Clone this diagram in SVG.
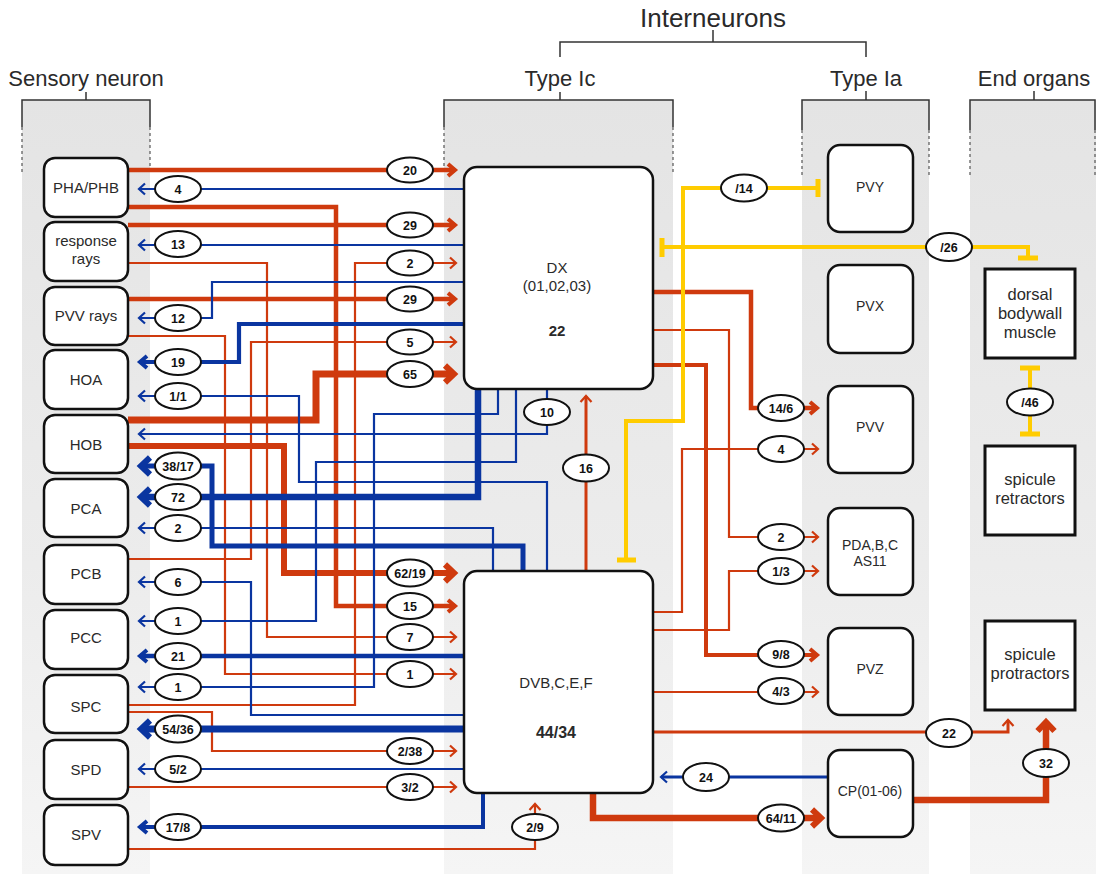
<svg xmlns="http://www.w3.org/2000/svg" width="1096" height="874" viewBox="0 0 1096 874">
<style>
text{font-family:"Liberation Sans",Arial,sans-serif;fill:#2a2a2a;text-anchor:middle}
.hd{font-size:22px}
.hd2{font-size:26px}
.nl{font-size:15px}
.nb{font-size:15px;font-weight:bold}
.eo{font-size:16.5px}
.node{fill:#fff;stroke:#111;stroke-width:2.5}
.box{fill:#fff;stroke:#111;stroke-width:3}
.col{fill:url(#gray)}
.br{fill:none;stroke:#333;stroke-width:1.5}
.dash{fill:none;stroke:#555;stroke-width:1.2;stroke-dasharray:3 3}
.r{fill:none;stroke:#cf3a0e;stroke-linejoin:miter}
.b{fill:none;stroke:#0a35a0;stroke-linejoin:miter}
.y{fill:none;stroke:#ffcc00;stroke-width:4}
.yt{fill:none;stroke:#ffcc00;stroke-width:5}
.rt{stroke-width:2.2;marker-end:url(#mRt)}
.rm{stroke-width:4.5;marker-end:url(#mRm)}
.rk{stroke-width:6.5;marker-end:url(#mRk)}
.bt{stroke-width:2.2;marker-end:url(#mBt)}
.bm{stroke-width:4.2;marker-end:url(#mBm)}
.bk{stroke-width:6.5;marker-end:url(#mBk)}
.lab ellipse{fill:#fff;stroke:#111;stroke-width:2}
.lab text{font-size:12.5px;font-weight:bold;fill:#111}
</style>
<defs>
<linearGradient id="gray" x1="0" y1="0" x2="0" y2="1">
<stop offset="0" stop-color="#e4e4e4"/>
<stop offset="0.6" stop-color="#ececec"/>
<stop offset="1" stop-color="#f5f5f5"/>
</linearGradient>
<marker id="mRt" markerUnits="userSpaceOnUse" viewBox="-12 -12 24 24" markerWidth="24" markerHeight="24" refX="0" refY="0" orient="auto" overflow="visible"><path d="M-6,-5.5 L0,0 L-6,5.5" fill="none" stroke="#cf3a0e" stroke-width="2.2"/></marker>
<marker id="mRm" markerUnits="userSpaceOnUse" viewBox="-12 -12 24 24" markerWidth="24" markerHeight="24" refX="0" refY="0" orient="auto" overflow="visible"><path d="M-7,-6 L0,0 L-7,6" fill="none" stroke="#cf3a0e" stroke-width="4"/></marker>
<marker id="mRk" markerUnits="userSpaceOnUse" viewBox="-14 -14 28 28" markerWidth="28" markerHeight="28" refX="0" refY="0" orient="auto" overflow="visible"><path d="M-9,-8.5 L0,0 L-9,8.5" fill="none" stroke="#cf3a0e" stroke-width="6"/></marker>
<marker id="mBt" markerUnits="userSpaceOnUse" viewBox="-12 -12 24 24" markerWidth="24" markerHeight="24" refX="0" refY="0" orient="auto" overflow="visible"><path d="M-6,-5.5 L0,0 L-6,5.5" fill="none" stroke="#0a35a0" stroke-width="2.2"/></marker>
<marker id="mBm" markerUnits="userSpaceOnUse" viewBox="-12 -12 24 24" markerWidth="24" markerHeight="24" refX="0" refY="0" orient="auto" overflow="visible"><path d="M-7,-6 L0,0 L-7,6" fill="none" stroke="#0a35a0" stroke-width="4"/></marker>
<marker id="mBk" markerUnits="userSpaceOnUse" viewBox="-14 -14 28 28" markerWidth="28" markerHeight="28" refX="0" refY="0" orient="auto" overflow="visible"><path d="M-9,-8.5 L0,0 L-9,8.5" fill="none" stroke="#0a35a0" stroke-width="6"/></marker>
</defs>
<rect width="1096" height="874" fill="#fff"/>
<g id="columns">
<rect class="col" x="22" y="100" width="128" height="774"/>
<rect class="col" x="444" y="100" width="229" height="774"/>
<rect class="col" x="802" y="100" width="127" height="774"/>
<rect class="col" x="970" y="100" width="126" height="774"/>
</g>
<g id="headers">
<text class="hd2" x="713" y="27">Interneurons</text>
<path class="br" d="M560,57 V42 H866 V57 M713,42 V30"/>
<text class="hd" x="86" y="86">Sensory neuron</text>
<path class="br" d="M22,127 V100 H150 V127 M86,100 V92"/>
<path class="dash" d="M22,127 V172 M150,127 V172"/>
<text class="hd" x="560" y="86">Type Ic</text>
<path class="br" d="M444,127 V100 H673 V127 M560,100 V92"/>
<path class="dash" d="M444,127 V172 M673,127 V172"/>
<text class="hd" x="866" y="86">Type Ia</text>
<path class="br" d="M802,130 V100 H929 V130 M866,100 V91"/>
<path class="dash" d="M802,130 V175 M929,130 V175"/>
<text class="hd" x="1034" y="86">End organs</text>
<path class="br" d="M970,130 V100 H1095 V130 M1034,100 V91"/>
<path class="dash" d="M970,130 V175 M1095,130 V175"/>
</g>
<g id="connectors">
<!-- red -->
<path class="r rm" d="M128,170 H455"/>
<path class="r rm" d="M128,207 H336 V606 H455"/>
<path class="r rm" d="M128,225 H455"/>
<path class="r rt" d="M128,263 H267 V637 H456"/>
<path class="r rm" d="M128,299 H455"/>
<path class="r rt" d="M128,336 H225 V674 H456"/>
<path class="r rk" d="M128,420 H316 V374 H454" style="stroke-width:7"/>
<path class="r rk" d="M128,446 H284 V573 H454" style="stroke-width:6"/>
<path class="r rt" d="M128,559 H251 V342 H456"/>
<path class="r rt" d="M128,705 H355 V263 H456"/>
<path class="r rt" d="M128,712 H212 V751 H456"/>
<path class="r rt" d="M128,787 H456"/>
<path class="r rt" d="M128,849 H535 V804"/>
<path class="r rt" d="M586,571 V396" style="stroke-width:3"/>
<path class="r rm" d="M653,292 H751 V408 H817"/>
<path class="r rt" d="M653,330 H729 V537 H818"/>
<path class="r rm" d="M653,365 H706 V655 H817" style="stroke-width:4"/>
<path class="r rt" d="M653,612 H682 V449 H818"/>
<path class="r rt" d="M653,630 H729 V571 H818"/>
<path class="r rt" d="M653,692 H818"/>
<path class="r rt" d="M653,732 H1008 V720" style="stroke-width:3"/>
<path class="r rk" d="M593,793 V818 H821"/>
<path class="r rk" d="M913,800 H1046 V722"/>
<!-- blue -->
<path class="b bt" d="M464,189 H139"/>
<path class="b bt" d="M464,245 H139"/>
<path class="b bt" d="M464,282 H212 V318 H139"/>
<path class="b bm" d="M464,324 H239 V362 H140"/>
<path class="b bt" d="M547,571 V482 H299 V396 H139"/>
<path class="b bt" d="M547,389 V434 H139"/>
<path class="b bk" d="M523,571 V546 H212 V466 H141" style="stroke-width:5"/>
<path class="b bk" d="M478,389 V497 H141"/>
<path class="b bt" d="M493,571 V528 H139"/>
<path class="b bt" d="M464,715 H251 V582 H139"/>
<path class="b bt" d="M516,389 V462 H316 V621 H139"/>
<path class="b bm" d="M464,656 H140" style="stroke-width:4.5"/>
<path class="b bt" d="M498,389 V414 H374 V687 H139"/>
<path class="b bk" d="M464,729 H141" style="stroke-width:7"/>
<path class="b bt" d="M464,769 H139"/>
<path class="b bm" d="M483,793 V827 H140" style="stroke-width:4"/>
<path class="b bt" d="M828,777 H661" style="stroke-width:3"/>
<!-- yellow -->
<path class="y" d="M626,560 V421 H683 V188 H818"/>
<path class="yt" d="M818,179 V197 M617,560 H636"/>
<path class="y" d="M662,247 H1028 V258"/>
<path class="yt" d="M662,238 V257 M1018,258 H1038"/>
<path class="y" d="M1030,368 V434"/>
<path class="yt" d="M1020,368 H1040 M1020,434 H1040"/>
<!-- labels -->
<g class="lab">
<ellipse cx="178" cy="189" rx="23" ry="13"/><text x="178" y="193.5">4</text>
<ellipse cx="178" cy="244" rx="23" ry="13"/><text x="178" y="248.5">13</text>
<ellipse cx="178" cy="318" rx="23" ry="13"/><text x="178" y="322.5">12</text>
<ellipse cx="178" cy="362" rx="23" ry="13"/><text x="178" y="366.5">19</text>
<ellipse cx="178" cy="396" rx="23" ry="13"/><text x="178" y="400.5">1/1</text>
<ellipse cx="178" cy="466" rx="23" ry="13.5"/><text x="178" y="470.5">38/17</text>
<ellipse cx="178" cy="497" rx="23" ry="13"/><text x="178" y="501.5">72</text>
<ellipse cx="178" cy="528" rx="23" ry="13"/><text x="178" y="532.5">2</text>
<ellipse cx="178" cy="582" rx="23" ry="13"/><text x="178" y="586.5">6</text>
<ellipse cx="178" cy="621" rx="23" ry="13"/><text x="178" y="625.5">1</text>
<ellipse cx="178" cy="656" rx="23" ry="13"/><text x="178" y="660.5">21</text>
<ellipse cx="178" cy="687" rx="23" ry="13"/><text x="178" y="691.5">1</text>
<ellipse cx="178" cy="729" rx="23" ry="13.5"/><text x="178" y="733.5">54/36</text>
<ellipse cx="178" cy="769" rx="23" ry="13"/><text x="178" y="773.5">5/2</text>
<ellipse cx="178" cy="827" rx="23" ry="13"/><text x="178" y="831.5">17/8</text>
<ellipse cx="410" cy="170" rx="23" ry="12.5"/><text x="410" y="174.5">20</text>
<ellipse cx="410" cy="225" rx="23" ry="12.5"/><text x="410" y="229.5">29</text>
<ellipse cx="410" cy="263" rx="23" ry="12.5"/><text x="410" y="267.5">2</text>
<ellipse cx="410" cy="299" rx="23" ry="12.5"/><text x="410" y="303.5">29</text>
<ellipse cx="410" cy="342" rx="23" ry="12.5"/><text x="410" y="346.5">5</text>
<ellipse cx="410" cy="374" rx="23" ry="13"/><text x="410" y="378.5">65</text>
<ellipse cx="410" cy="573" rx="23" ry="13.5"/><text x="410" y="577.5">62/19</text>
<ellipse cx="410" cy="606" rx="23" ry="13"/><text x="410" y="610.5">15</text>
<ellipse cx="410" cy="637" rx="23" ry="13"/><text x="410" y="641.5">7</text>
<ellipse cx="410" cy="674" rx="23" ry="13"/><text x="410" y="678.5">1</text>
<ellipse cx="410" cy="751" rx="23" ry="13"/><text x="410" y="755.5">2/38</text>
<ellipse cx="410" cy="787" rx="23" ry="13"/><text x="410" y="791.5">3/2</text>
<ellipse cx="547" cy="412" rx="23" ry="13"/><text x="547" y="416.5">10</text>
<ellipse cx="586" cy="468" rx="23" ry="13.5"/><text x="586" y="472.5">16</text>
<ellipse cx="535" cy="827" rx="23" ry="13"/><text x="535" y="831.5">2/9</text>
<ellipse cx="744" cy="188" rx="23" ry="13.5"/><text x="744" y="192.5">/14</text>
<ellipse cx="949" cy="247" rx="23" ry="14"/><text x="949" y="251.5">/26</text>
<ellipse cx="1030" cy="402" rx="23" ry="13.5"/><text x="1030" y="406.5">/46</text>
<ellipse cx="781" cy="408" rx="23" ry="13"/><text x="781" y="412.5">14/6</text>
<ellipse cx="781" cy="449" rx="23" ry="13"/><text x="781" y="453.5">4</text>
<ellipse cx="781" cy="537" rx="23" ry="13"/><text x="781" y="541.5">2</text>
<ellipse cx="781" cy="571" rx="23" ry="13"/><text x="781" y="575.5">1/3</text>
<ellipse cx="781" cy="654" rx="23" ry="13"/><text x="781" y="658.5">9/8</text>
<ellipse cx="781" cy="691" rx="23" ry="13"/><text x="781" y="695.5">4/3</text>
<ellipse cx="949" cy="733" rx="23" ry="14"/><text x="949" y="737.5">22</text>
<ellipse cx="706" cy="777" rx="23" ry="14"/><text x="706" y="781.5">24</text>
<ellipse cx="781" cy="818" rx="23" ry="13.5"/><text x="781" y="822.5">64/11</text>
<ellipse cx="1046" cy="763" rx="23" ry="14"/><text x="1046" y="767.5">32</text>
</g>
</g>
<g id="n-phaphb"><rect class="node" x="44" y="158" width="84" height="59" rx="11"/><text class="nl" x="86" y="193">PHA/PHB</text></g>
<g id="n-response-rays"><rect class="node" x="44" y="222" width="84" height="59" rx="11"/><text class="nl" x="86" y="246">response</text><text class="nl" x="86" y="264">rays</text></g>
<g id="n-pvv-rays"><rect class="node" x="44" y="287" width="84" height="58" rx="11"/><text class="nl" x="86" y="321">PVV rays</text></g>
<g id="n-hoa"><rect class="node" x="44" y="350" width="84" height="59" rx="11"/><text class="nl" x="86" y="385">HOA</text></g>
<g id="n-hob"><rect class="node" x="44" y="415" width="84" height="58" rx="11"/><text class="nl" x="86" y="450">HOB</text></g>
<g id="n-pca"><rect class="node" x="44" y="479" width="84" height="58" rx="11"/><text class="nl" x="86" y="514">PCA</text></g>
<g id="n-pcb"><rect class="node" x="44" y="545" width="84" height="59" rx="11"/><text class="nl" x="86" y="579">PCB</text></g>
<g id="n-pcc"><rect class="node" x="44" y="610" width="84" height="59" rx="11"/><text class="nl" x="86" y="643">PCC</text></g>
<g id="n-spc"><rect class="node" x="44" y="675" width="84" height="58" rx="11"/><text class="nl" x="86" y="712">SPC</text></g>
<g id="n-spd"><rect class="node" x="44" y="740" width="84" height="59" rx="11"/><text class="nl" x="86" y="775">SPD</text></g>
<g id="n-spv"><rect class="node" x="44" y="805" width="84" height="60" rx="11"/><text class="nl" x="86" y="840">SPV</text></g>
<g id="n-dx"><rect class="node" x="464" y="167" width="189" height="222" rx="13"/><text class="nl" x="557" y="273">DX</text><text class="nl" x="557" y="291">(01,02,03)</text><text class="nb" x="557" y="336">22</text></g>
<g id="n-dvb"><rect class="node" x="464" y="571" width="189" height="222" rx="13"/><text class="nl" x="556" y="688">DVB,C,E,F</text><text class="nb" x="556" y="738" style="font-size:16px">44/34</text></g>
<g id="n-pvy"><rect class="node" x="828" y="145" width="85" height="87" rx="12"/><text class="nl" x="870" y="192" style="font-size:14px">PVY</text></g>
<g id="n-pvx"><rect class="node" x="828" y="265" width="85" height="88" rx="12"/><text class="nl" x="870" y="311" style="font-size:14px">PVX</text></g>
<g id="n-pvv"><rect class="node" x="828" y="386" width="85" height="87" rx="12"/><text class="nl" x="870" y="432" style="font-size:14px">PVV</text></g>
<g id="n-pda"><rect class="node" x="828" y="508" width="85" height="87" rx="12"/><text class="nl" x="870" y="550" style="font-size:14px">PDA,B,C</text><text class="nl" x="870" y="566" style="font-size:14px">AS11</text></g>
<g id="n-pvz"><rect class="node" x="828" y="628" width="85" height="87" rx="12"/><text class="nl" x="870" y="674" style="font-size:14px">PVZ</text></g>
<g id="n-cp"><rect class="node" x="828" y="750" width="85" height="87" rx="12"/><text class="nl" x="870" y="796" style="font-size:14px">CP(01-06)</text></g>
<g id="n-dorsal"><rect class="box" x="985" y="269" width="90" height="89"/><text class="eo" x="1030" y="300">dorsal</text><text class="eo" x="1030" y="319">bodywall</text><text class="eo" x="1030" y="338">muscle</text></g>
<g id="n-retractors"><rect class="box" x="985" y="446" width="90" height="89"/><text class="eo" x="1030" y="485">spicule</text><text class="eo" x="1030" y="504">retractors</text></g>
<g id="n-protractors"><rect class="box" x="985" y="621" width="90" height="89"/><text class="eo" x="1030" y="660">spicule</text><text class="eo" x="1030" y="679">protractors</text></g>
</svg>
